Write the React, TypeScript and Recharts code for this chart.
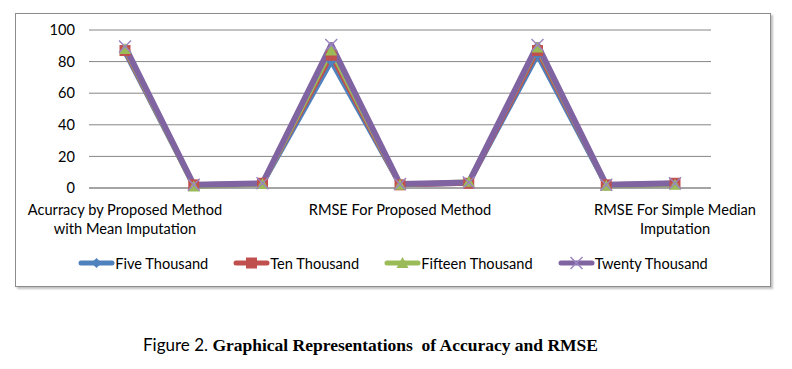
import { LineChart, Line, XAxis, YAxis, CartesianGrid, Legend } from "recharts";

const categories = [
  "Acurracy by Proposed Method with Mean Imputation",
  "RMSE For Mean Imputation",
  "RMSE For Simple Mean Imputation",
  "Acurracy by Proposed Method with Median Imputation",
  "RMSE For Proposed Method",
  "RMSE For Median Imputation",
  "Acurracy by Simple Median Imputation",
  "RMSE For Simple Median",
  "RMSE For Simple Median Imputation",
];

const tickLines: string[][] = [
  ["Acurracy by Proposed Method", "with Mean Imputation"],
  [],
  [],
  [],
  ["RMSE For Proposed Method"],
  [],
  [],
  [],
  ["RMSE For Simple Median", "Imputation"],
];

const fiveThousand = [86, 1.5, 2.5, 80, 2, 3, 84, 1.5, 2.5];
const tenThousand = [87, 2, 3, 84, 2, 3, 87, 2, 3];
const fifteenThousand = [88, 1, 2.5, 87, 2, 4, 89, 1.5, 2];
const twentyThousand = [89.5, 2, 3, 90.5, 2.5, 3.5, 90.5, 2, 3];

const yTicks = [0, 20, 40, 60, 80, 100];

const seriesNames = ["Five Thousand", "Ten Thousand", "Fifteen Thousand", "Twenty Thousand"];
const colors = ["#4F81BD", "#C0504D", "#9BBB59", "#8064A2"];

const data = categories.map((c, i) => ({
  name: c,
  five: fiveThousand[i],
  ten: tenThousand[i],
  fifteen: fifteenThousand[i],
  twenty: twentyThousand[i],
}));

const keys = ["five", "ten", "fifteen", "twenty"];
const font = "Lato, 'Open Sans', sans-serif";

function Marker({ kind, cx, cy }: { kind: number; cx: number; cy: number }) {
  if (kind === 0) {
    return <polygon points={`${cx},${cy - 5} ${cx + 5},${cy} ${cx},${cy + 5} ${cx - 5},${cy}`} fill={colors[0]} />;
  }
  if (kind === 1) {
    return <rect x={cx - 5.5} y={cy - 5.5} width={11} height={11} fill={colors[1]} />;
  }
  if (kind === 2) {
    return <polygon points={`${cx},${cy - 6} ${cx + 6},${cy + 5} ${cx - 6},${cy + 5}`} fill={colors[2]} />;
  }
  return (
    <g stroke="#9a86c0" strokeWidth={1.5}>
      <line x1={cx - 6} y1={cy - 6} x2={cx + 6} y2={cy + 6} />
      <line x1={cx - 6} y1={cy + 6} x2={cx + 6} y2={cy - 6} />
    </g>
  );
}

const makeDot = (kind: number) => (props: any) => {
  const { cx, cy, index } = props;
  if (cx == null || cy == null) return <g key={index} />;
  return (
    <g key={`d-${kind}-${index}`}>
      <Marker kind={kind} cx={cx} cy={cy} />
    </g>
  );
};

function XTick(props: any) {
  const { x, y, payload } = props;
  const idx = categories.indexOf(payload.value);
  const lines = tickLines[idx] || [];
  return (
    <g>
      {lines.map((l, i) => (
        <text
          key={i}
          x={x}
          y={y + 19 + i * 19}
          textAnchor="middle"
          fontFamily={font}
          fontSize={14.6}
          fill="#000"
        >
          {l}
        </text>
      ))}
    </g>
  );
}

function LegendContent() {
  return (
    <div
      style={{
        height: 38,
        paddingTop: 7,
        boxSizing: "border-box",
        display: "flex",
        justifyContent: "center",
        fontFamily: font,
        fontSize: 14.6,
        color: "#000",
      }}
    >
      {seriesNames.map((n, i) => (
        <div key={n} style={{ display: "flex", alignItems: "center", height: 16, marginRight: i < 3 ? 25 : 0 }}>
          <svg width={37} height={16}>
            <line x1={3} y1={8} x2={34} y2={8} stroke={colors[i]} strokeWidth={5} strokeLinecap="round" />
            <Marker kind={i} cx={18.5} cy={8} />
          </svg>
          <span>{n}</span>
        </div>
      ))}
    </div>
  );
}

export default function App() {
  return (
    <div style={{ position: "absolute", left: 0, top: 0, width: 792, height: 369, background: "#fff" }}>
      <div
        style={{
          position: "absolute",
          left: 15,
          top: 13,
          width: 756,
          height: 274,
          boxSizing: "border-box",
          border: "1px solid #8c8c8c",
          boxShadow: "2px 2px 2px rgba(0,0,0,0.25)",
          background: "#fff",
        }}
      >
        <LineChart width={754} height={272} data={data} margin={{ top: 16, right: 59, left: 0, bottom: 0 }}>
          <CartesianGrid vertical={false} stroke="#868686" strokeWidth={1} />
          <XAxis
            dataKey="name"
            interval={3}
            padding={{ left: 36, right: 36 }}
            axisLine={{ stroke: "#868686" }}
            tickLine={false}
            height={60}
            tick={<XTick />}
          />
          <YAxis
            domain={[0, 100]}
            ticks={yTicks}
            width={73}
            axisLine={false}
            tickLine={false}
            tickMargin={8}
            tick={{ fontFamily: font, fontSize: 14.6, fill: "#000" }}
          />
          <Legend
            verticalAlign="bottom"
            wrapperStyle={{ left: 0, width: 754 }}
            content={<LegendContent />}
          />
          {keys.map((k, i) => (
            <Line
              key={k}
              dataKey={k}
              name={seriesNames[i]}
              stroke={colors[i]}
              strokeWidth={i === 3 ? 6 : 5}
              strokeLinejoin="round"
              dot={makeDot(i)}
              activeDot={false}
              isAnimationActive={false}
            />
          ))}
        </LineChart>
      </div>
      <div
        style={{
          position: "absolute",
          left: 143,
          top: 334,
          whiteSpace: "nowrap",
          color: "#000",
        }}
      >
        <span style={{ fontFamily: font, fontSize: 17 }}>Figure 2. </span>
        <span
          style={{
            fontFamily: "'Liberation Serif', 'Times New Roman', serif",
            fontSize: 17.5,
            fontWeight: "bold",
          }}
        >
          Graphical Representations &nbsp;of Accuracy and RMSE
        </span>
      </div>
    </div>
  );
}
